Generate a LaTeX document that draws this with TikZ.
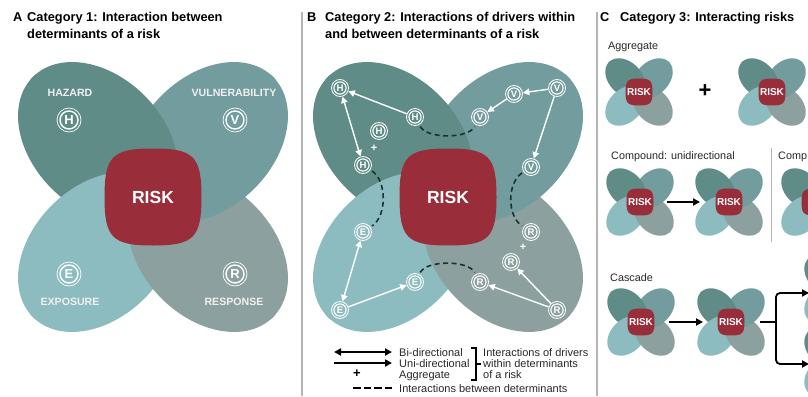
\documentclass[tikz,border=0pt]{standalone}
\usepackage{fontspec}
\setmainfont{Liberation Sans}
\usetikzlibrary{arrows.meta}
\definecolor{cH}{RGB}{95,140,134}
\definecolor{cV}{RGB}{114,156,158}
\definecolor{cE}{RGB}{141,188,192}
\definecolor{cR}{RGB}{139,160,159}
\definecolor{cRisk}{RGB}{153,45,58}
\definecolor{cTxt}{RGB}{40,40,40}
\definecolor{cSep}{RGB}{180,180,180}
\definecolor{cDash}{RGB}{25,50,50}

\newcommand\petH{\fill[cH,shift={(-55,-55)},rotate=-45] (0,0) ellipse [x radius=92pt,y radius=65.7pt];}
\newcommand\petV{\fill[cV,shift={(55,-55)},rotate=45] (0,0) ellipse [x radius=92pt,y radius=65.7pt];}
\newcommand\petR{\fill[cR,shift={(55,55)},rotate=-45] (0,0) ellipse [x radius=92pt,y radius=65.7pt];}
\newcommand\petE{\fill[cE,shift={(-55,55)},rotate=45] (0,0) ellipse [x radius=92pt,y radius=65.7pt];}
% #1 x, #2 y, #3 scale, #4 risk half size (unscaled units)
\newcommand\flowerat[4]{%
 \begin{scope}[shift={(#1,#2)},scale=#3]
  \begin{scope}\clip (0,6)--(-206,-200)--(206,-200)--cycle; \petR\petE\petV\petH\end{scope}
  \begin{scope}\clip (-6,0)--(200,-206)--(200,206)--cycle; \petE\petH\petR\petV\end{scope}
  \begin{scope}\clip (0,-6)--(206,200)--(-206,200)--cycle; \petH\petV\petE\petR\end{scope}
  \begin{scope}\clip (6,0)--(-200,206)--(-200,-206)--cycle; \petV\petR\petH\petE\end{scope}
  \fill[cRisk] (0,-#4) .. controls (0.84*#4,-#4) and (#4,-0.84*#4) .. (#4,0)
     .. controls (#4,0.84*#4) and (0.84*#4,#4) .. (0,#4)
     .. controls (-0.84*#4,#4) and (-#4,0.84*#4) .. (-#4,0)
     .. controls (-#4,-0.84*#4) and (-0.84*#4,-#4) .. (0,-#4) -- cycle;
 \end{scope}}

\begin{document}
\begin{tikzpicture}[x=1pt,y=-1pt,
  title/.style={font=\bfseries\fontsize{12.8}{15}\selectfont, text=black, anchor=base west, inner sep=0pt},
  lbl/.style={font=\fontsize{10.8}{13}\selectfont, text=cTxt, anchor=base west, inner sep=0pt},
  leg/.style={font=\fontsize{11}{13}\selectfont, text=cTxt, anchor=base west, inner sep=0pt},
  petlbl/.style={font=\bfseries\fontsize{10.6}{12}\selectfont, text=white!94!black, inner sep=0pt},
  bigrisk/.style={font=\bfseries\fontsize{17.5}{18}\selectfont, text=white, inner sep=0pt},
  smallrisk/.style={font=\bfseries\fontsize{10}{10}\selectfont, text=white, inner sep=0pt},
  anode/.style={circle, draw=white, line width=0.7pt, minimum size=24pt, inner sep=0pt, text=white,
     font=\bfseries\fontsize{13}{13}\selectfont,
     path picture={\draw[white,line width=1.4pt] (path picture bounding box.center) circle[radius=9pt];}},
  bnode/.style={circle, draw=white, line width=0.8pt, minimum size=17pt, inner sep=0pt, text=white,
     font=\bfseries\fontsize{9.6}{10}\selectfont,
     path picture={\draw[white,line width=1.1pt] (path picture bounding box.center) circle[radius=6.1pt];}},
  warrow/.style={white, line width=1.4pt, -{Triangle[length=6.5pt,width=6.5pt]}},
  wbi/.style={white, line width=1.4pt, {Triangle[length=6.5pt,width=6.5pt]}-{Triangle[length=6.5pt,width=6.5pt]}},
  dashln/.style={cDash, line width=1.6pt, dash pattern=on 5pt off 3.5pt, shorten <=2pt, shorten >=2pt},
  barrow/.style={black, line width=1.8pt, -{Triangle[length=7pt,width=7pt]}},
  bbi/.style={black, line width=1.8pt, {Triangle[length=7pt,width=7pt]}-{Triangle[length=7pt,width=7pt]}},
  wplus/.style={font=\bfseries\fontsize{11}{11}\selectfont, text=white, inner sep=0pt}
]
\useasboundingbox (0,0) rectangle (808,396);
\fill[white] (0,0) rectangle (808,396);
\clip (0,0) rectangle (808,396);

% separators
\draw[cSep, line width=1.2pt] (302,12) -- (302,396);
\draw[cSep, line width=1.2pt] (597,12) -- (597,396);

% ---------------- Panel A ----------------
\node[title] (tA) at (13,22) {A};
\node[title] (tA1) at (27,22) {Category 1: Interaction between};
\node[title] (tA2) at (27,38) {determinants of a risk};
\flowerat{153}{197}{1}{48.5}
\node[bigrisk] (riskA) at (153,197) {RISK};
\node[petlbl] (lH) at (70,93) {HAZARD};
\node[anode] (iH) at (69,120) {H};
\node[petlbl] (lV) at (234,93) {VULNERABILITY};
\node[anode] (iV) at (235,120) {V};
\node[anode] (iE) at (69,274) {E};
\node[petlbl] (lE) at (70,302) {EXPOSURE};
\node[anode] (iR) at (235,274) {R};
\node[petlbl] (lR) at (234,302) {RESPONSE};

% ---------------- Panel B ----------------
\node[title] (tB) at (307,22) {B};
\node[title] (tB1) at (325,22) {Category 2: Interactions of drivers within};
\node[title] (tB2) at (325,38) {and between determinants of a risk};
\flowerat{448}{197}{1}{48.5}
\node[bigrisk] (riskB) at (448,197) {RISK};

\node[bnode] (h1) at (340,88) {H};
\node[bnode] (h2) at (415,117) {H};
\node[bnode] (h3) at (379,131) {H};
\node[bnode] (h4) at (363,165) {H};
\node[bnode] (v1) at (557,88) {V};
\node[bnode] (v2) at (514,94) {V};
\node[bnode] (v3) at (480,117) {V};
\node[bnode] (v4) at (531,167) {V};
\node[bnode] (e1) at (363,232) {E};
\node[bnode] (e2) at (415,282) {E};
\node[bnode] (e3) at (340,310) {E};
\node[bnode] (r1) at (531,232) {R};
\node[bnode] (r2) at (511,262) {R};
\node[bnode] (r3) at (480,282) {R};
\node[bnode] (r4) at (557,310) {R};
\node[wplus] (pH) at (374,148) {+};
\node[wplus] (pR) at (523,247) {+};

\draw[warrow] (h2) -- (h1);
\draw[wbi] (h1) -- (h4);
\draw[warrow] (v1) -- (v2);
\draw[warrow] (v2) -- (v3);
\draw[warrow] (v1) -- (v4);
\draw[wbi] (e3) -- (e1);
\draw[warrow] (e3) -- (e2);
\draw[warrow] (r4) -- (r3);
\draw[warrow] (r4) -- (r2);

\draw[dashln] (h2) .. controls +(12,22) and +(-12,22) .. (v3);
\draw[dashln] (e2) .. controls +(12,-22) and +(-12,-22) .. (r3);
\draw[dashln] (h4) .. controls +(24,16) and +(24,-16) .. (e1);
\draw[dashln] (v4) .. controls +(-24,16) and +(-24,-16) .. (r1);

% legend
\coordinate (lbA) at (334,352); \coordinate (lbB) at (392,352);
\coordinate (luA) at (334,363); \coordinate (luB) at (392,363);
\coordinate (ldA) at (353,388); \coordinate (ldB) at (392,388);
\draw[bbi] (lbA) -- (lbB);
\draw[barrow] (luA) -- (luB);
\node[font=\bfseries\fontsize{13}{13}\selectfont, inner sep=0pt] (lplus) at (357,374) {+};
\draw[black, line width=1.8pt, dash pattern=on 7.5pt off 3pt] (ldA) -- (ldB);
\node[leg] (lg1) at (399,356) {Bi-directional};
\node[leg] (lg2) at (399,367) {Uni-directional};
\node[leg] (lg3) at (399,378) {Aggregate};
\node[leg] (lg4) at (399,392) {Interactions between determinants};
\draw[black, line width=1.1pt] (471,348) -- (476,348) -- (476,380) -- (471,380);
\draw[black, line width=1.1pt] (476,364) -- (481,364);
\node[leg] (lg5) at (483,356) {Interactions of drivers};
\node[leg] (lg6) at (483,367) {within determinants};
\node[leg] (lg7) at (483,378) {of a risk};

% ---------------- Panel C ----------------
\node[title] (tC) at (600,22) {C};
\node[title] (tC1) at (620,22) {Category 3: Interacting risks};

\node[lbl] (cAgg) at (608,50) {Aggregate};
\flowerat{639}{92}{0.25}{54}
\node[smallrisk] (rk1) at (639,92) {RISK};
\node[font=\bfseries\fontsize{22}{22}\selectfont, inner sep=0pt] (cplus) at (705,91) {+};
\flowerat{772}{92}{0.25}{54}
\node[smallrisk] (rk2) at (772,92) {RISK};

\node[lbl] (cComp) at (611,159) {Compound: unidirectional};
\flowerat{640}{202}{0.25}{54}
\node[smallrisk] (rk3) at (640,202) {RISK};
\flowerat{729}{202}{0.25}{54}
\node[smallrisk] (rk4) at (729,202) {RISK};
\coordinate (cu1) at (667,202); \coordinate (cu2) at (700,202);
\draw[barrow] (cu1) -- (cu2);
\draw[cSep, line width=1pt] (771,148) -- (771,242);
\node[lbl] (cComp2) at (778,159) {Comp};
\flowerat{815}{202}{0.25}{54}

\node[lbl] (cCas) at (610,281) {Cascade};
\flowerat{641}{322}{0.25}{54}
\node[smallrisk] (rk6) at (641,322) {RISK};
\flowerat{731}{322}{0.25}{54}
\node[smallrisk] (rk7) at (731,322) {RISK};
\coordinate (cc1) at (669,322); \coordinate (cc2) at (703,322);
\draw[barrow] (cc1) -- (cc2);
\flowerat{838}{289}{0.25}{54}
\flowerat{838}{362}{0.25}{54}
\coordinate (cb0) at (760,322); \coordinate (cbM) at (776,322);
\coordinate (cbT) at (809,293); \coordinate (cbB) at (809,364);
\draw[black, line width=1.8pt] (cb0) -- (cbM);
\draw[barrow, rounded corners=4pt] (cbM) -- (776,293) -- (cbT);
\draw[barrow, rounded corners=4pt] (cbM) -- (776,364) -- (cbB);
\end{tikzpicture}
\end{document}
